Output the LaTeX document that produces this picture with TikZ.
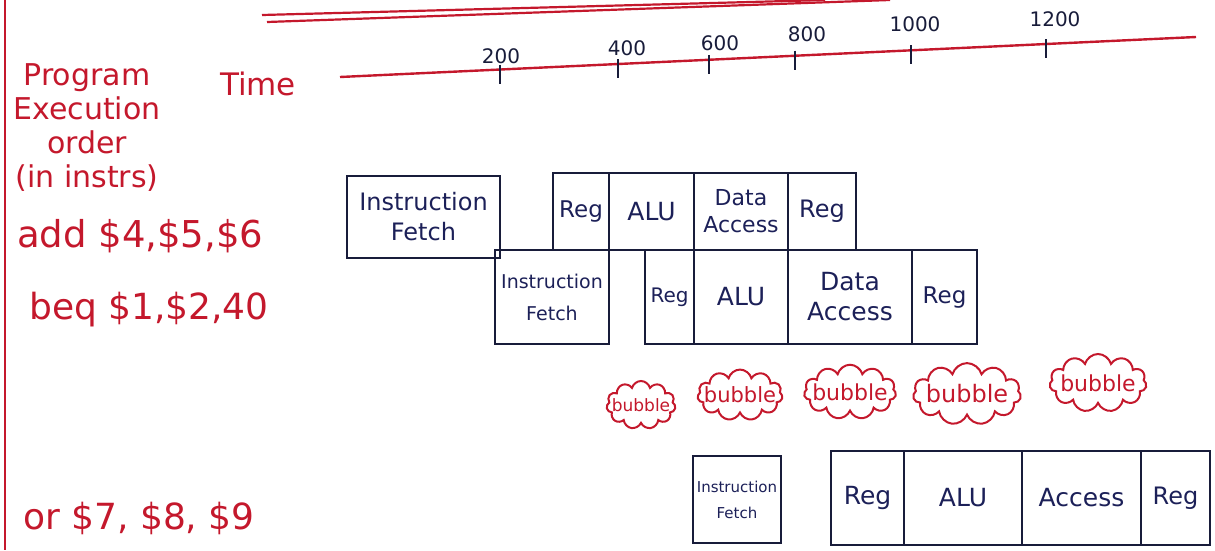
\documentclass[tikz,border=0pt]{standalone}
\usepackage{fontspec}
\setmainfont{DejaVu Sans}
\usetikzlibrary{positioning,calc,shapes.symbols}
\definecolor{inkred}{RGB}{196,24,44}
\definecolor{inkblue}{RGB}{28,32,88}
\definecolor{inkline}{RGB}{24,28,58}
\newcommand{\penfont}[2]{\fontsize{#1}{#2}\selectfont}
\tikzset{
  stage/.style={draw=inkline, line width=2.4pt, text=inkblue, align=center,
                inner sep=0pt, outer sep=0pt},
  redNote/.style={text=inkred, align=center, inner sep=0pt},
  bubble/.style={cloud, cloud puffs=11, aspect=1.8, draw=inkred,
                 line width=2pt, text=inkred, inner xsep=-12pt, inner ysep=-3pt},
  axisLine/.style={draw=inkred, line width=2.4pt},
  rule/.style={draw=inkred, line width=2.2pt},
  tickMark/.style={draw=inkline, line width=2pt},
  tickLabel/.style={text=inkline, inner sep=0pt, font=\penfont{20}{20}}
}

\begin{document}
\begin{tikzpicture}[x=1pt,y=-1pt]
  \useasboundingbox (0,0) rectangle (1215,550);
  % page margin and heading rules
  \draw[rule] (5,0) -- (5,550);
  \draw[rule] (262,15) -- (825,0);
  \draw[rule] (267,22) -- (890,0);

  % notes on the left
  \node[redNote, font=\penfont{30}{34}] (order) at (87,128) {Program\\Execution\\order\\(in instrs)};
  \node[redNote, font=\penfont{31}{34}] (time) at (258,84) {Time};
  \node[redNote, font=\penfont{37}{40}, anchor=west] (iadd) at (17,236) {add \$4,\$5,\$6};
  \node[redNote, font=\penfont{36}{40}, anchor=west] (ibeq) at (29,310) {beq \$1,\$2,40};
  \node[redNote, font=\penfont{36}{40}, anchor=west] (ior) at (23,518) {or \$7, \$8, \$9};

  % time axis
  \coordinate (tA) at (340,77);
  \coordinate (tB) at (1196,37);
  \draw[axisLine] (tA) -- (tB);
  \foreach \x/\t/\lx/\ly in {500/200/501/56, 618/400/627/48, 709/600/720/43,
                             795/800/807/34, 911/1000/915/24, 1046/1200/1055/19}{
    \coordinate (tk\t) at ($(tA)!{(\x-340)/856}!(tB)$);
    \draw[tickMark] ([yshift=5pt]tk\t) -- ([yshift=-14pt]tk\t);
    \node[tickLabel] (lb\t) at (\lx,\ly) {\t};
  }

  % add
  \node[stage, anchor=north west, minimum width=153, minimum height=82, font=\penfont{24}{30}] (if1) at (347,176) {Instruction\\Fetch};
  \node[stage, anchor=north west, minimum width=56, minimum height=77, font=\penfont{23}{26}] (rf1) at (553,173) {Reg};
  \node[stage, minimum width=85, minimum height=77, font=\penfont{25}{28}, right=0pt of rf1] (alu1) {ALU};
  \node[stage, minimum width=94, minimum height=77, font=\penfont{22}{27}, right=0pt of alu1] (dm1) {Data\\Access};
  \node[stage, minimum width=68, minimum height=77, font=\penfont{24}{26}, right=0pt of dm1] (wb1) {Reg};

  % beq
  \node[stage, anchor=north west, minimum width=114, minimum height=94, font=\penfont{19}{32}] (if2) at (495,250) {Instruction\\Fetch};
  \node[stage, anchor=north west, minimum width=49, minimum height=94, font=\penfont{20}{24}] (rf2) at (645,250) {Reg};
  \node[stage, minimum width=94, minimum height=94, font=\penfont{25}{28}, right=0pt of rf2] (alu2) {ALU};
  \node[stage, minimum width=124, minimum height=94, font=\penfont{25}{30}, right=0pt of alu2] (dm2) {Data\\Access};
  \node[stage, minimum width=65, minimum height=94, font=\penfont{23}{26}, right=0pt of dm2] (wb2) {Reg};

  % stall
  \node[bubble, minimum width=69, minimum height=48, font=\penfont{17}{17}] (bub1) at (641,405) {bubble};
  \node[bubble, minimum width=85, minimum height=50, font=\penfont{21}{21}] (bub2) at (740,395) {bubble};
  \node[bubble, minimum width=92, minimum height=50, font=\penfont{22}{22}] (bub3) at (850,392) {bubble};
  \node[bubble, minimum width=108, minimum height=55, font=\penfont{24}{24}] (bub4) at (967,394) {bubble};
  \node[bubble, minimum width=97, minimum height=58, font=\penfont{22}{22}] (bub5) at (1098,383) {bubble};

  % or
  \node[stage, anchor=north west, minimum width=88, minimum height=87, font=\penfont{15}{26}] (if3) at (693,456) {Instruction\\Fetch};
  \node[stage, anchor=north west, minimum width=73, minimum height=94, font=\penfont{25}{28}] (rf3) at (831,451) {Reg};
  \node[stage, minimum width=118, minimum height=94, font=\penfont{25}{28}, right=0pt of rf3] (alu3) {ALU};
  \node[stage, minimum width=119, minimum height=94, font=\penfont{25}{28}, right=0pt of alu3] (dm3) {Access};
  \node[stage, minimum width=69, minimum height=94, font=\penfont{24}{26}, right=0pt of dm3] (wb3) {Reg};
\end{tikzpicture}
\end{document}
